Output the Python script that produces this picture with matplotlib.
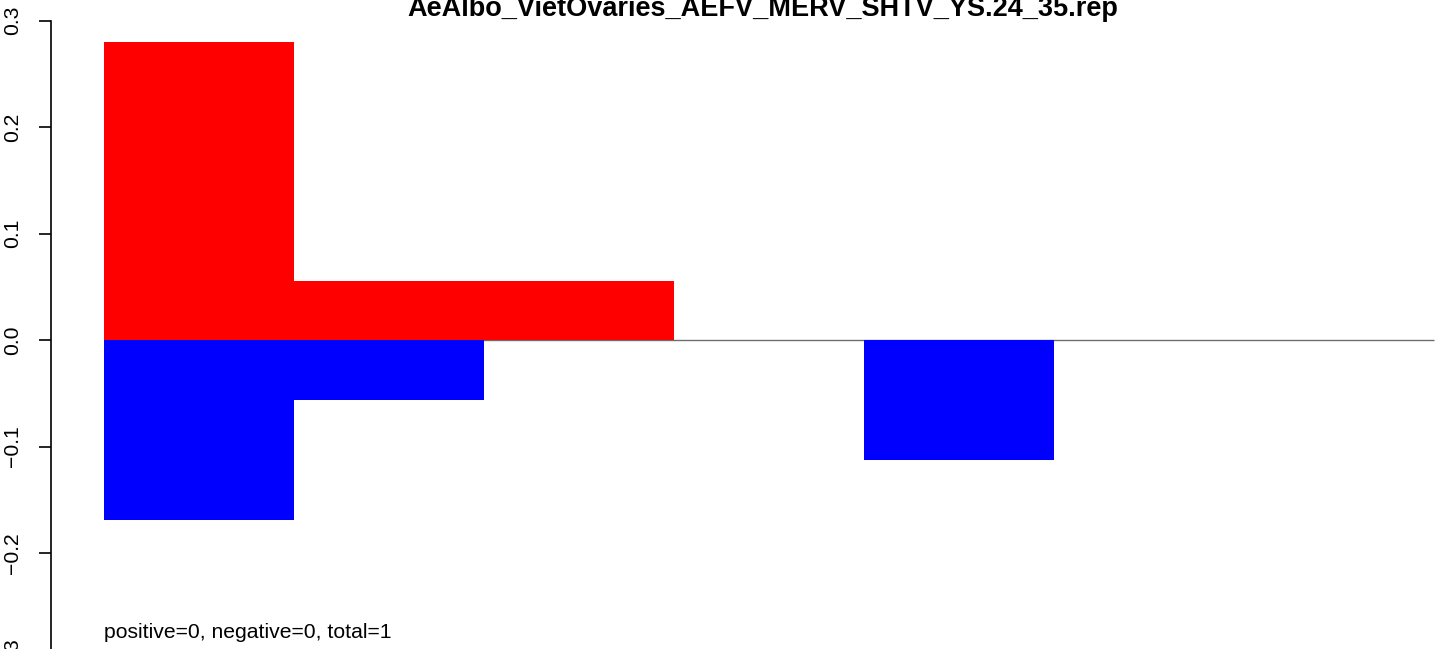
import matplotlib
matplotlib.use("Agg")
import matplotlib.pyplot as plt

# dados
categorias = [1, 2, 3, 4, 5, 6, 7]
positivos = [0.28, 0.0556, 0.0556, 0.0, 0.0, 0.0, 0.0]
negativos = [-0.169, -0.0565, 0.0, 0.0, -0.1127, 0.0, 0.0]
y_ticks = [-0.3, -0.2, -0.1, 0.0, 0.1, 0.2, 0.3]
titulo = "AeAlbo_VietOvaries_AEFV_MERV_SHTV_YS.24_35.rep"
nota = "positive=0, negative=0, total=1"

plt.rcParams["font.family"] = ["Liberation Sans", "DejaVu Sans"]

W, H = 1441, 649
fig = plt.figure(figsize=(W / 100, H / 100), dpi=100)
# área do gráfico estende-se além da figura (imagem original cortada)
x0, x1 = 51, 51 + 1436
y_top, y_bot = 20.5, 659.5
ax = fig.add_axes([x0 / W, (H - y_bot) / H, (x1 - x0) / W, (y_bot - y_top) / H])

n = len(categorias)
pos_x = [i for i in range(n)]
ax.hlines(0, 0, n, color="#6e6e6e", linewidth=1.0, zorder=1)
ax.bar(pos_x, positivos, width=1.0, align="edge", color="red", linewidth=0, zorder=2)
ax.bar(pos_x, negativos, width=1.0, align="edge", color="blue", linewidth=0, zorder=2)

ax.set_xlim(-0.28, n + 0.28)
ax.set_ylim(-0.3, 0.3)
for s in ["top", "right", "bottom"]:
    ax.spines[s].set_visible(False)
ax.spines["left"].set_linewidth(1.2)
ax.set_xticks([])
ax.set_yticks(y_ticks)
ax.set_yticklabels([f"{v:.1f}".replace("-", "\u2212") for v in y_ticks],
                   rotation=90, va="center", fontsize=15.2)
ax.tick_params(axis="y", length=8.6, width=1.2, pad=12)

ax.text(0, -0.275, nota, ha="left", va="center", fontsize=15.2)
fig.text(763 / W, 1 - 16 / H, titulo, ha="center", va="baseline", fontsize=19.5, fontweight="bold")

fig.savefig("out.png", dpi=100)
